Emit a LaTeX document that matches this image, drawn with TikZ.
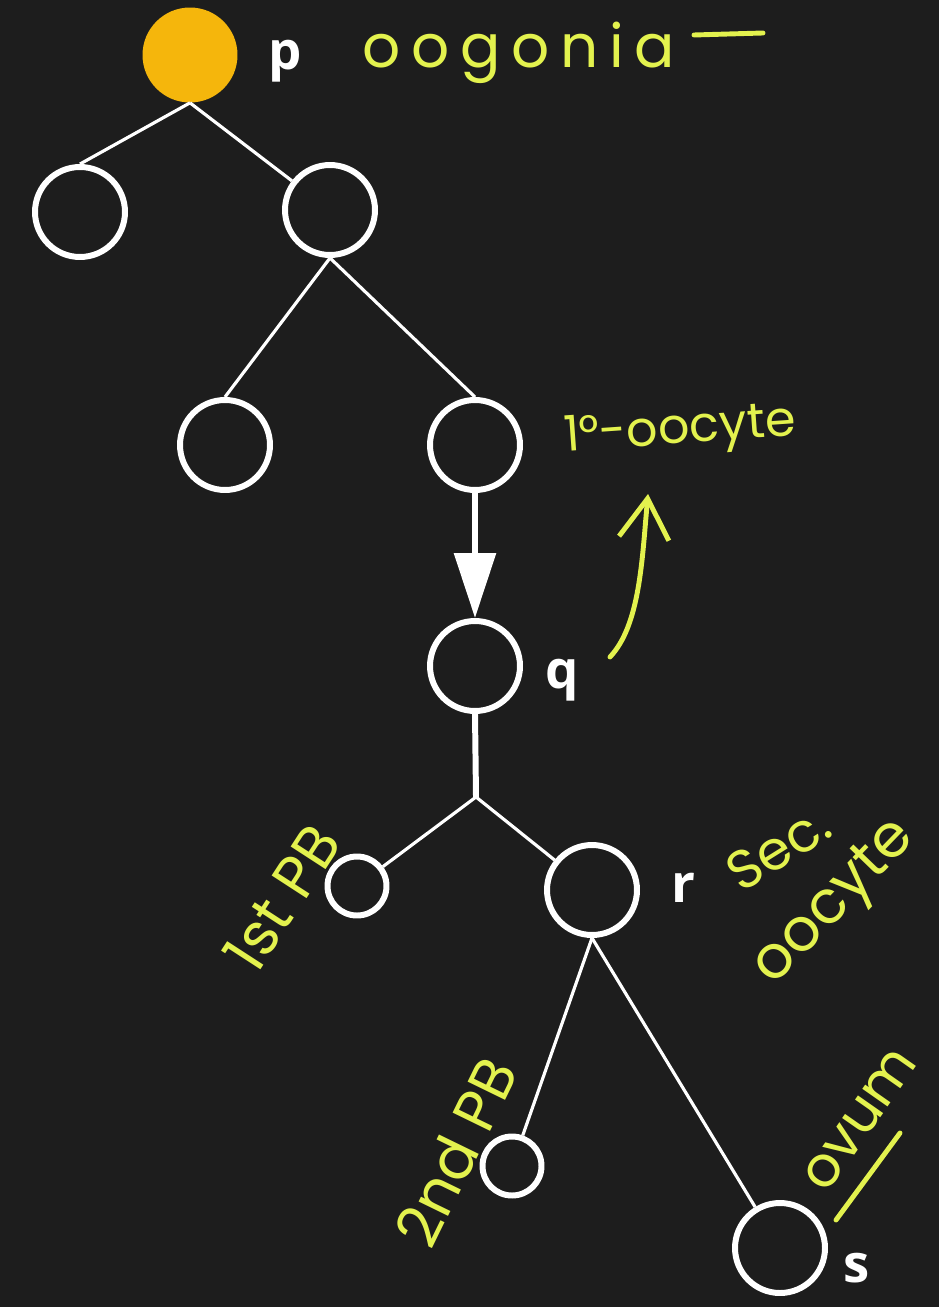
\documentclass[tikz,border=0pt]{standalone}
\usepackage{fontspec}
\setmainfont{Open Sans}
\newfontfamily\handfont{Poppins}
\newfontfamily\widehand{Poppins}[LetterSpace=18]
\usetikzlibrary{arrows.meta}
\definecolor{board}{HTML}{1D1D1D}
\definecolor{gold}{HTML}{F5B60C}
\definecolor{chalk}{HTML}{E3F24E}

\begin{document}
\begin{tikzpicture}[x=0.02cm,y=-0.02cm,
  cell/.style={circle,draw=white,line width=3.4pt,minimum size=1.8cm,inner sep=0pt},
  smallcell/.style={cell,minimum size=1.18cm},
  seed/.style={circle,fill=gold,minimum size=1.9cm,inner sep=0pt},
  link/.style={draw=white,line width=1.8pt},
  stem/.style={draw=white,line width=3.4pt},
  tag/.style={text=white,font=\fontsize{30}{32}\selectfont\bfseries,inner sep=0pt},
  note/.style={text=chalk,font=\handfont\fontsize{28}{30}\selectfont,inner sep=0pt},
  bignote/.style={text=chalk,font=\handfont\fontsize{34}{36}\selectfont,inner sep=0pt},
  pen/.style={draw=chalk,line width=2.8pt,line cap=round}]

% canvas
\fill[board] (0,0) rectangle (939,1307);
\useasboundingbox (0,0) rectangle (939,1307);

% cells
\node[seed] (p)  at (190,55)  {};
\node[cell] (a1) at (80,212)  {};
\node[cell] (a2) at (330,210) {};
\node[cell] (b1) at (225,445) {};
\node[cell] (b2) at (475,445) {};
\node[cell] (q)  at (475,666) {};
\node[smallcell] (pb1) at (357,886) {};
\node[cell] (r)  at (592,890) {};
\node[smallcell] (pb2) at (512,1166) {};
\node[cell] (s)  at (780,1248) {};
\coordinate (j) at (476,797);

% letter tags
\node[tag,anchor=base] (lp) at (285,70)   {p};
\node[tag,anchor=base] (lq) at (562,688)  {q};
\node[tag,anchor=base] (lr) at (683,902)  {r};
\node[tag,anchor=base] (ls) at (857,1282) {s};

% connectors
\draw[link] (p.south) -- (a1.north);
\draw[link] (p.south) -- (a2);
\draw[link] (a2.south) -- (b1.north);
\draw[link] (a2.south) -- (b2.north);
\draw[stem,-{Triangle[length=1.3cm,width=0.82cm]}] (b2.south) -- (q.north);
\draw[stem] (q.south) -- (j);
\draw[link] (j) -- (pb1);
\draw[link] (j) -- (r);
\draw[link] (r.south) -- (pb2);
\draw[link] (r.south) -- (s);

% handwritten notes
\node[text=chalk,font=\widehand\fontsize{34}{36}\selectfont,inner sep=0pt,anchor=base west] (n1) at (362,68) {oogonia};
\coordinate (d1) at (694,35);
\coordinate (d2) at (763,33);
\draw[pen] (d1) -- (d2);

\node[note,rotate=4] (n2) at (680,432) {1°-oocyte};
\coordinate (c1) at (610,657);
\coordinate (c2) at (648,494);
\draw[pen,-{Straight Barb[length=0.8cm,width=1.0cm]}] (c1) .. controls (640,625) and (642,560) .. (c2);

\node[note,rotate=32,font=\handfont\fontsize{31}{33}\selectfont] (n3) at (778,848) {Sec.};
\node[bignote,rotate=46] (n4) at (836,904) {oocyte};
\node[bignote,rotate=57] (n5) at (282,898) {1st PB};
\node[bignote,rotate=64] (n6) at (456,1152) {2nd PB};
\node[bignote,rotate=55,font=\handfont\fontsize{32}{34}\selectfont] (n7) at (860,1120) {ovum};
\coordinate (u1) at (836,1220);
\coordinate (u2) at (900,1133);
\draw[pen] (u1) -- (u2);
\end{tikzpicture}
\end{document}
